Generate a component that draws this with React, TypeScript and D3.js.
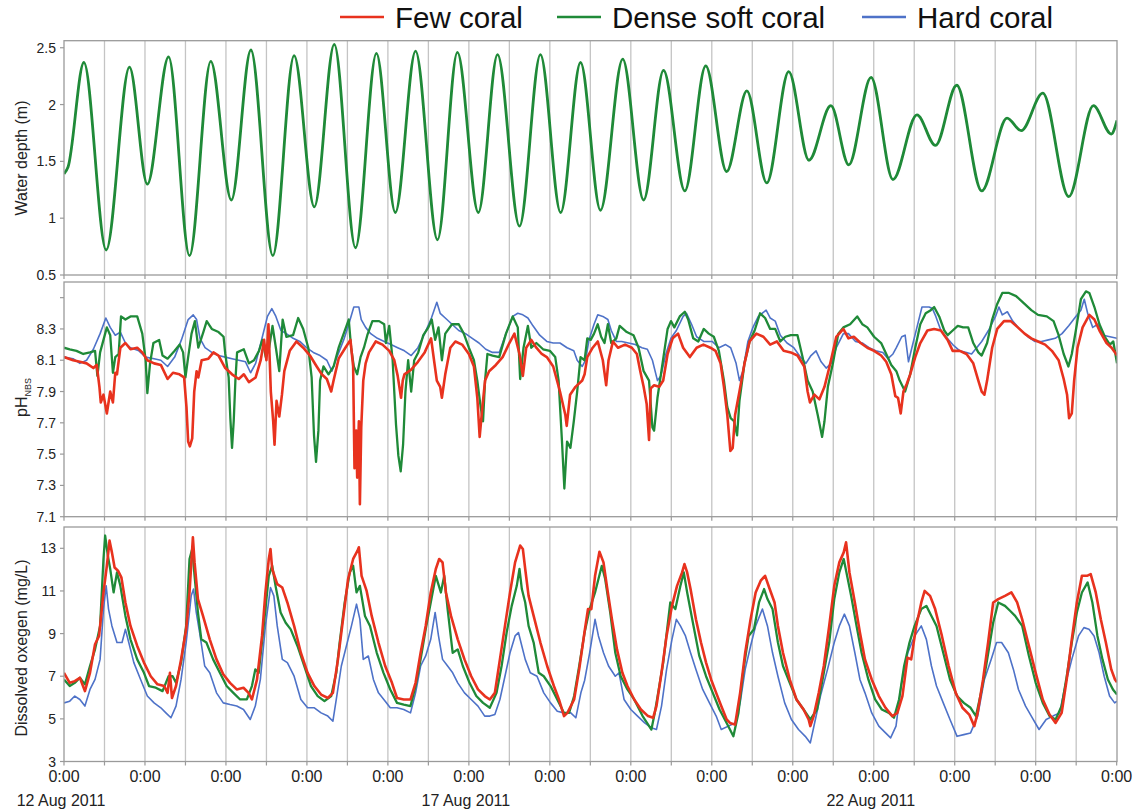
import React from 'react';
import * as d3 from 'd3';

type P = [number, number];

// ---- Series names / colours
const seriesNames = ['Few coral', 'Dense soft coral', 'Hard coral'];
const seriesColors = ['#e8321e', '#1f8a38', '#4e72c8'];

// ---- Axis ticks
const depthTicks = [0.5, 1, 1.5, 2, 2.5];
const phTicks = [7.1, 7.3, 7.5, 7.7, 7.9, 8.1, 8.3];
const phMinorTicks = [8.5];
const doTicks = [3, 5, 7, 9, 11, 13];
const dayCount = 13;
const timeLabel = '0:00';
const dateLabelDays = [0, 5, 10];
const dateLabels = ['12 Aug 2011', '17 Aug 2011', '22 Aug 2011'];

// ---- Water depth (hours since 12 Aug 0:00, metres) – tidal turning points
const depth: P[] = [
  [0, 1.39], [1.2, 1.45], [5.9, 2.37], [12.5, 0.72], [19.4, 2.33], [24.7, 1.3], [31.0, 2.42], [37.2, 0.67],
  [43.5, 2.38], [49.6, 1.16], [55.4, 2.48], [61.9, 0.67], [68.2, 2.43], [74.2, 1.1], [80.1, 2.53],
  [86.4, 0.74], [92.6, 2.45], [98.2, 1.05], [104.2, 2.47], [110.7, 0.81], [116.6, 2.46], [122.8, 1.05],
  [128.5, 2.44], [135.0, 0.93], [141.2, 2.44], [147.2, 1.05], [153.1, 2.37], [159.0, 1.07], [165.6, 2.4],
  [171.8, 1.16], [177.7, 2.3], [184.0, 1.24], [190.2, 2.34], [196.4, 1.41], [202.4, 2.12], [208.3, 1.31],
  [214.8, 2.29], [220.8, 1.51], [227.3, 1.99], [232.6, 1.47], [239.2, 2.24], [245.7, 1.34], [252.8, 1.91],
  [258.3, 1.64], [264.6, 2.17], [272.0, 1.24], [279.5, 1.88], [283.7, 1.77], [290.1, 2.1], [297.8, 1.19],
  [305.1, 1.99], [310.4, 1.74], [312.1, 1.86],
];

// ---- pH (NBS)
const phFew: P[] = [
  [0, 8.12], [2.7, 8.1], [4.7, 8.09], [6.7, 8.08], [8.7, 8.05], [9.7, 8.07], [10.5, 7.93], [10.9, 7.83], [11.7, 7.88],
  [12.7, 7.76], [13.7, 7.9], [14.5, 7.83], [15.2, 8.02], [15.7, 8.01], [16.7, 8.18], [18.2, 8.21], [19.7, 8.17],
  [21.7, 8.18], [23.2, 8.15], [24.7, 8.1], [26.7, 8.08], [28.7, 8.07], [30.7, 7.98], [32.3, 8.02], [34.2, 8.01],
  [35.6, 7.99], [36.3, 7.8], [36.8, 7.58], [37.3, 7.55], [38.0, 7.6], [38.6, 7.9], [39.3, 8.03], [39.8, 7.99],
  [40.8, 8.1], [42.8, 8.11], [44.3, 8.15], [45.8, 8.13], [47.8, 8.05], [49.8, 8.01], [51.8, 7.98], [53.3, 8.01],
  [54.8, 7.96], [56.8, 7.99], [58.3, 8.1], [59.3, 8.23], [60.0, 8.1], [60.6, 8.33], [61.3, 7.9], [62.0, 7.71],
  [62.4, 7.56], [63.0, 7.84], [63.8, 7.74], [64.6, 7.88], [65.3, 8.03], [66.9, 8.16], [68.9, 8.22], [70.9, 8.18],
  [72.9, 8.13], [74.9, 8.06], [76.4, 8.01], [77.9, 7.98], [79.2, 7.9], [79.9, 7.97], [81.4, 8.11], [83.4, 8.18],
  [84.9, 8.23], [85.7, 8.06], [86.1, 7.41], [86.6, 7.65], [86.9, 7.35], [87.4, 7.71], [87.7, 7.18], [88.1, 7.67],
  [88.7, 7.97], [89.4, 8.08], [90.4, 8.15], [92.4, 8.22], [94.4, 8.2], [96.4, 8.16], [97.9, 8.1], [98.9, 8.0],
  [99.9, 7.86], [100.4, 7.97], [100.9, 8.01], [102.9, 8.04], [104.9, 8.09], [106.9, 8.15], [108.8, 8.24],
  [109.8, 8.08], [110.5, 7.97], [111.5, 7.93], [112.0, 7.86], [113.0, 8.01], [114.5, 8.18], [116.0, 8.22],
  [118.0, 8.2], [120.0, 8.14], [121.5, 8.06], [122.5, 7.86], [123.2, 7.61], [124.0, 7.8], [124.8, 7.97],
  [126.0, 8.03], [128.0, 8.07], [130.0, 8.12], [132.0, 8.21], [133.5, 8.27], [135.0, 8.14], [136.0, 8.0],
  [137.0, 8.18], [138.5, 8.23], [140.0, 8.18], [141.6, 8.14], [143.1, 8.12], [145.0, 8.06], [147.0, 7.9],
  [148.6, 7.75], [149.0, 7.68], [150.0, 7.88], [151.6, 7.93], [153.6, 7.97], [154.3, 8.01], [155.1, 8.12],
  [156.7, 8.18], [158.2, 8.22], [159.7, 8.1], [160.7, 7.94], [161.4, 8.1], [162.7, 8.22], [164.2, 8.18],
  [166.3, 8.2], [168.3, 8.18], [169.8, 8.14], [170.8, 8.03], [171.8, 7.93], [172.7, 7.82], [173.4, 7.59],
  [173.9, 7.92], [174.9, 7.94], [176.4, 7.93], [177.6, 7.97], [178.9, 8.14], [180.4, 8.24], [182.0, 8.27],
  [183.5, 8.18], [185.5, 8.12], [187.5, 8.18], [189.5, 8.2], [191.6, 8.18], [193.1, 8.16], [194.6, 8.08],
  [195.6, 7.93], [196.6, 7.75], [197.5, 7.52], [198.2, 7.54], [198.9, 7.75], [200.2, 7.9], [201.7, 8.08],
  [203.2, 8.22], [205.2, 8.27], [207.3, 8.25], [209.3, 8.2], [211.3, 8.22], [213.3, 8.16], [215.4, 8.15],
  [217.4, 8.13], [219.4, 8.06], [220.4, 7.9], [221.1, 7.83], [222.4, 7.88], [223.9, 7.85], [225.4, 7.93],
  [226.9, 8.06], [228.9, 8.25], [231.0, 8.3], [232.5, 8.24], [234.1, 8.25], [236.1, 8.21], [238.1, 8.18],
  [240.1, 8.16], [242.2, 8.13], [243.7, 8.09], [245.2, 8.01], [246.4, 7.87], [247.2, 7.86], [248.0, 7.76],
  [248.8, 7.9], [249.8, 7.95], [250.8, 8.01], [252.3, 8.12], [253.8, 8.21], [255.9, 8.29], [257.9, 8.3],
  [259.9, 8.29], [261.9, 8.23], [263.4, 8.16], [265.5, 8.16], [267.5, 8.14], [269.5, 8.08], [271.0, 7.97],
  [272.0, 7.9], [272.8, 7.88], [273.6, 7.97], [275.1, 8.18], [276.6, 8.3], [278.6, 8.35], [280.6, 8.35],
  [282.7, 8.31], [284.7, 8.27], [286.7, 8.24], [288.7, 8.22], [290.8, 8.2], [292.8, 8.16], [294.8, 8.1],
  [296.3, 7.98], [297.3, 7.88], [297.9, 7.73], [298.7, 7.76], [299.4, 7.97], [300.4, 8.18], [301.9, 8.31],
  [303.9, 8.39], [305.4, 8.36], [306.9, 8.29], [309.0, 8.21], [310.5, 8.18], [311.5, 8.15], [312.1, 8.13],
];

const phDense: P[] = [
  [0, 8.18], [1.7, 8.17], [3.7, 8.16], [5.7, 8.14], [7.7, 8.15], [9.2, 8.16], [9.9, 8.0], [10.7, 8.15], [11.7, 8.23],
  [12.7, 8.31], [13.7, 8.26], [14.5, 8.02], [15.2, 8.12], [16.2, 8.14], [16.9, 8.38], [18.2, 8.36], [19.7, 8.38],
  [21.7, 8.38], [23.2, 8.27], [24.2, 8.1], [24.7, 7.89], [25.5, 8.08], [26.5, 8.21], [28.2, 8.23], [29.2, 8.13],
  [30.7, 8.11], [32.8, 8.16], [34.3, 8.2], [35.3, 8.15], [36.0, 7.99], [36.8, 8.12], [37.8, 8.27], [38.8, 8.35],
  [39.8, 8.18], [41.3, 8.28], [42.3, 8.35], [43.8, 8.3], [45.8, 8.28], [47.3, 8.25], [47.8, 8.14], [48.8, 7.99],
  [49.3, 7.73], [49.8, 7.54], [50.3, 7.71], [50.8, 7.97], [51.3, 8.15], [53.3, 8.17], [54.8, 8.08], [56.3, 8.1],
  [57.8, 8.16], [58.8, 8.23], [59.8, 8.12], [60.8, 8.18], [61.8, 8.32], [62.8, 8.18], [63.8, 8.03], [64.8, 8.36],
  [65.9, 8.25], [67.9, 8.26], [69.4, 8.37], [70.9, 8.3], [72.4, 8.18], [73.4, 7.99], [74.1, 7.62], [74.7, 7.45],
  [75.4, 7.65], [75.9, 7.97], [76.9, 8.06], [78.4, 8.01], [79.9, 8.06], [81.4, 8.18], [82.9, 8.27], [84.4, 8.36],
  [85.1, 8.18], [85.9, 8.06], [86.9, 8.01], [87.9, 8.12], [88.9, 8.18], [89.9, 8.26], [91.4, 8.35], [93.4, 8.35],
  [94.9, 8.33], [95.4, 8.21], [96.4, 8.32], [97.4, 8.1], [98.4, 7.69], [99.1, 7.49], [99.8, 7.39], [100.5, 7.56],
  [101.2, 7.9], [102.0, 8.1], [102.9, 7.9], [103.8, 8.1], [105.0, 8.15], [106.5, 8.26], [108.0, 8.31],
  [109.0, 8.36], [110.0, 8.23], [111.0, 8.31], [112.0, 8.1], [113.0, 8.27], [115.0, 8.33], [117.0, 8.33],
  [118.5, 8.27], [120.0, 8.18], [121.5, 8.1], [122.5, 7.97], [123.5, 7.8], [124.2, 7.71], [124.8, 7.97],
  [125.5, 8.14], [127.0, 8.13], [129.0, 8.12], [131.0, 8.27], [133.0, 8.38], [134.5, 8.31], [135.2, 7.98],
  [136.2, 8.18], [137.5, 8.32], [138.5, 8.18], [140.0, 8.21], [142.0, 8.17], [144.0, 8.16], [145.6, 8.12],
  [146.6, 7.97], [147.6, 7.58], [148.3, 7.28], [149.1, 7.58], [150.1, 7.54], [151.1, 7.71], [152.1, 7.9],
  [153.1, 8.12], [154.3, 8.1], [155.1, 8.24], [156.1, 8.23], [157.1, 8.27], [158.2, 8.33], [159.2, 8.25],
  [160.2, 8.21], [161.2, 8.33], [162.2, 8.21], [163.7, 8.24], [164.7, 8.32], [166.8, 8.28], [168.8, 8.26],
  [170.3, 8.18], [171.8, 8.03], [173.4, 7.97], [174.4, 7.67], [174.9, 7.65], [175.9, 7.86], [177.4, 8.08],
  [178.9, 8.3], [179.9, 8.35], [180.9, 8.31], [182.5, 8.38], [184.0, 8.41], [185.0, 8.36], [186.5, 8.24],
  [188.0, 8.22], [189.6, 8.3], [191.1, 8.27], [192.6, 8.25], [194.1, 8.16], [195.6, 7.97], [196.6, 7.8],
  [197.6, 7.73], [198.6, 7.71], [199.5, 7.62], [200.2, 7.84], [201.7, 8.08], [203.2, 8.22], [204.7, 8.29],
  [206.3, 8.4], [207.8, 8.37], [209.3, 8.3], [210.8, 8.3], [212.3, 8.22], [213.8, 8.25], [215.4, 8.26],
  [217.4, 8.26], [218.9, 8.12], [220.4, 7.97], [221.9, 7.9], [223.4, 7.75], [224.7, 7.61], [225.4, 7.71],
  [226.4, 7.93], [227.9, 8.08], [229.5, 8.27], [231.0, 8.31], [233.0, 8.33], [235.1, 8.38], [236.6, 8.33],
  [238.1, 8.31], [240.1, 8.25], [242.2, 8.21], [243.7, 8.14], [245.2, 8.07], [246.7, 8.03], [247.7, 7.97],
  [249.3, 7.9], [250.8, 8.01], [252.3, 8.18], [253.8, 8.33], [255.4, 8.4], [256.9, 8.42], [257.9, 8.44],
  [259.4, 8.38], [260.9, 8.29], [261.9, 8.26], [263.4, 8.29], [264.9, 8.32], [266.5, 8.31], [268.0, 8.31],
  [269.5, 8.21], [271.0, 8.15], [272.0, 8.13], [273.6, 8.21], [275.1, 8.36], [276.6, 8.46], [278.1, 8.53],
  [280.1, 8.53], [282.2, 8.51], [284.7, 8.46], [286.7, 8.42], [288.7, 8.39], [291.3, 8.38], [293.3, 8.35],
  [294.8, 8.26], [296.3, 8.14], [297.7, 8.06], [298.7, 8.14], [299.9, 8.29], [301.4, 8.49], [302.9, 8.54],
  [303.9, 8.53], [305.4, 8.44], [306.9, 8.33], [308.5, 8.25], [310.0, 8.2], [311.0, 8.22], [312.1, 8.08],
];

const phHard: P[] = [
  [0, 8.12], [2.7, 8.11], [4.7, 8.08], [6.7, 8.1], [8.7, 8.17], [10.7, 8.27], [12.4, 8.37], [13.7, 8.31],
  [15.2, 8.26], [16.7, 8.28], [18.2, 8.21], [19.7, 8.18], [22.2, 8.16], [24.2, 8.12], [26.7, 8.11], [28.7, 8.1],
  [30.7, 8.06], [32.8, 8.12], [34.8, 8.23], [36.8, 8.36], [38.3, 8.39], [39.3, 8.36], [40.3, 8.24], [41.8, 8.18],
  [43.8, 8.15], [45.8, 8.13], [47.8, 8.12], [49.8, 8.11], [51.8, 8.1], [53.8, 8.09], [55.3, 8.02], [56.8, 8.08],
  [58.8, 8.25], [60.3, 8.38], [61.6, 8.43], [62.8, 8.38], [64.3, 8.29], [65.9, 8.27], [67.9, 8.24], [69.9, 8.22],
  [71.9, 8.18], [73.9, 8.15], [75.9, 8.13], [77.9, 8.1], [79.4, 8.03], [80.9, 8.12], [82.9, 8.23], [84.4, 8.33],
  [85.9, 8.44], [87.4, 8.44], [88.1, 8.36], [89.4, 8.31], [90.9, 8.27], [92.9, 8.24], [94.9, 8.22], [96.9, 8.2],
  [98.9, 8.18], [100.9, 8.16], [102.9, 8.13], [104.9, 8.18], [106.9, 8.27], [108.9, 8.37], [110.5, 8.47],
  [111.5, 8.4], [113.0, 8.37], [115.0, 8.33], [117.0, 8.29], [119.0, 8.27], [121.0, 8.24], [123.0, 8.21],
  [125.0, 8.17], [127.0, 8.15], [129.0, 8.15], [131.0, 8.27], [133.0, 8.38], [134.5, 8.4], [136.0, 8.39],
  [137.5, 8.37], [139.0, 8.32], [141.0, 8.26], [143.1, 8.22], [145.0, 8.21], [147.0, 8.21], [149.1, 8.18],
  [151.1, 8.16], [152.1, 8.1], [153.6, 8.06], [154.6, 8.1], [155.6, 8.23], [157.1, 8.33], [158.2, 8.39],
  [159.7, 8.38], [161.2, 8.36], [162.2, 8.29], [163.7, 8.22], [165.3, 8.22], [167.3, 8.21], [169.3, 8.2],
  [171.3, 8.18], [172.9, 8.17], [174.4, 8.1], [175.9, 7.97], [176.9, 8.0], [178.4, 8.14], [179.9, 8.24],
  [181.5, 8.29], [183.5, 8.38], [184.5, 8.4], [186.0, 8.33], [187.5, 8.25], [189.6, 8.22], [192.1, 8.22],
  [194.1, 8.18], [196.1, 8.2], [197.6, 8.18], [199.2, 8.08], [200.2, 7.97], [201.2, 8.03], [202.7, 8.22],
  [204.2, 8.31], [205.8, 8.38], [208.1, 8.42], [209.3, 8.37], [210.8, 8.35], [212.3, 8.26], [214.3, 8.21],
  [216.3, 8.18], [218.3, 8.12], [219.9, 8.08], [221.4, 8.13], [222.9, 8.16], [224.4, 8.09], [225.9, 8.05],
  [227.4, 8.08], [228.9, 8.18], [231.0, 8.27], [232.5, 8.27], [234.6, 8.22], [236.6, 8.21], [238.6, 8.18],
  [240.6, 8.16], [242.7, 8.15], [244.2, 8.11], [245.7, 8.14], [246.7, 8.18], [248.3, 8.25], [249.3, 8.26],
  [250.3, 8.09], [251.3, 8.18], [252.8, 8.31], [254.3, 8.44], [256.4, 8.44], [257.4, 8.43], [258.4, 8.38],
  [259.9, 8.29], [261.4, 8.25], [263.4, 8.2], [265.5, 8.16], [267.5, 8.15], [269.0, 8.14], [270.5, 8.18],
  [272.0, 8.22], [274.0, 8.29], [276.1, 8.38], [277.1, 8.44], [278.1, 8.39], [279.6, 8.41], [281.2, 8.35],
  [283.2, 8.3], [285.7, 8.25], [287.7, 8.22], [289.7, 8.22], [291.8, 8.23], [293.8, 8.24], [295.8, 8.27],
  [297.8, 8.32], [299.9, 8.38], [301.4, 8.42], [302.4, 8.49], [303.4, 8.4], [304.9, 8.31], [306.4, 8.33],
  [308.0, 8.26], [310.0, 8.25], [312.1, 8.24],
];

// ---- Dissolved oxygen (mg/L)
const doFew: P[] = [
  [0, 7.16], [1.7, 6.69], [3.2, 6.77], [4.7, 6.93], [6.2, 6.3], [7.7, 7.16], [9.2, 8.5], [10.4, 8.89], [11.7, 10.92],
  [12.7, 12.18], [13.5, 13.36], [14.2, 12.81], [15.0, 12.1], [16.0, 11.95], [17.0, 11.64], [18.2, 10.46],
  [19.7, 9.36], [21.7, 8.42], [23.7, 7.64], [25.7, 7.0], [27.7, 6.62], [29.7, 6.54], [30.7, 6.22], [31.4, 7.16],
  [32.0, 5.98], [33.2, 6.54], [34.7, 7.79], [36.2, 9.2], [37.2, 10.93], [38.2, 13.52], [38.7, 12.34],
  [39.7, 10.62], [41.2, 9.83], [43.2, 8.73], [45.2, 7.79], [47.2, 7.09], [49.2, 6.69], [51.2, 6.38], [53.2, 6.46],
  [54.7, 6.22], [55.7, 5.91], [57.2, 6.84], [58.7, 8.89], [59.7, 10.93], [60.7, 12.5], [61.2, 12.97],
  [61.7, 12.03], [63.2, 11.32], [64.7, 11.16], [66.2, 10.46], [68.2, 9.36], [70.2, 8.1], [72.2, 7.16],
  [74.2, 6.54], [76.2, 6.14], [78.2, 5.98], [79.7, 6.22], [81.2, 7.79], [82.7, 9.67], [84.2, 11.56], [85.7, 12.5],
  [87.0, 12.89], [87.4, 13.05], [88.2, 11.71], [89.7, 11.0], [91.2, 9.83], [93.2, 8.58], [95.2, 7.48],
  [97.2, 6.69], [98.7, 5.98], [100.7, 5.91], [102.7, 5.91], [104.2, 6.69], [105.7, 8.1], [107.2, 9.36],
  [108.7, 10.93], [110.2, 12.03], [111.2, 12.5], [112.2, 12.34], [113.2, 10.93], [114.7, 9.83], [116.7, 8.73],
  [118.7, 7.79], [120.7, 7.0], [122.7, 6.38], [124.7, 6.07], [126.2, 5.91], [127.7, 6.22], [129.2, 7.79],
  [130.7, 9.36], [132.2, 10.93], [133.7, 12.34], [135.2, 13.13], [136.0, 12.97], [136.7, 12.03], [137.7, 10.77],
  [139.2, 9.83], [141.2, 8.58], [143.2, 7.48], [145.2, 6.54], [146.7, 5.91], [148.2, 5.13], [149.2, 5.28],
  [151.2, 5.91], [152.7, 7.32], [154.3, 9.1], [155.3, 10.15], [156.3, 10.15], [157.4, 11.71], [158.7, 12.84],
  [159.9, 12.34], [160.9, 11.24], [162.4, 9.67], [163.9, 8.26], [165.5, 7.16], [167.0, 6.54], [169.0, 5.91],
  [171.0, 5.44], [173.1, 5.13], [174.6, 5.05], [175.6, 5.6], [177.1, 7.16], [178.6, 8.89], [180.2, 10.3],
  [181.7, 11.24], [183.2, 11.87], [183.9, 12.26], [184.7, 11.87], [185.7, 11.09], [187.3, 9.67], [188.8, 8.58],
  [190.3, 7.64], [191.8, 6.85], [193.3, 6.22], [194.8, 5.6], [196.4, 4.97], [197.4, 4.81], [198.9, 4.73],
  [200.4, 6.22], [201.9, 8.1], [203.5, 9.67], [205.0, 10.93], [206.5, 11.48], [207.8, 11.71], [209.0, 11.16],
  [210.6, 10.46], [211.6, 9.36], [213.1, 8.1], [215.1, 6.85], [217.1, 5.91], [219.2, 5.44], [220.7, 4.97],
  [221.2, 4.66], [222.2, 5.13], [223.7, 6.22], [225.2, 7.48], [226.8, 9.36], [228.3, 11.24], [229.8, 12.34],
  [231.1, 12.81], [231.8, 13.28], [232.8, 11.87], [234.4, 10.46], [235.9, 9.05], [237.4, 7.79], [239.4, 6.85],
  [241.5, 6.07], [243.5, 5.52], [245.5, 5.13], [247.0, 5.28], [248.5, 6.07], [250.0, 7.87], [251.1, 7.79],
  [252.6, 9.36], [254.1, 10.46], [255.1, 11.0], [256.7, 10.77], [258.2, 10.15], [260.2, 8.89], [262.2, 7.48],
  [264.3, 6.22], [266.3, 5.52], [268.3, 5.2], [269.8, 4.66], [270.8, 5.28], [272.4, 6.85], [273.9, 8.58],
  [275.4, 10.46], [276.9, 10.62], [278.9, 10.77], [280.8, 10.93], [282.5, 10.46], [284.0, 9.67], [286.0, 8.42],
  [288.0, 7.16], [290.1, 5.91], [292.1, 5.2], [293.9, 4.81], [295.7, 5.28], [297.2, 6.85], [298.7, 8.73],
  [300.2, 10.46], [301.7, 11.71], [303.2, 11.71], [304.3, 11.79], [305.8, 10.93], [307.3, 9.67], [308.8, 8.58],
  [310.4, 7.32], [311.5, 6.85], [312.1, 6.72],
];

const doDense: P[] = [
  [0, 6.84], [1.7, 6.54], [3.2, 6.69], [4.7, 6.93], [6.2, 6.62], [7.7, 7.48], [9.2, 8.26], [10.7, 9.36], [11.7, 12.5],
  [12.2, 13.6], [13.0, 12.65], [13.7, 12.03], [14.7, 10.93], [15.7, 11.87], [16.7, 11.24], [18.2, 9.83],
  [19.7, 8.73], [21.7, 7.79], [23.7, 7.16], [25.2, 6.54], [27.2, 6.46], [29.2, 6.3], [31.0, 7.0], [32.2, 7.0],
  [33.2, 6.69], [34.7, 7.64], [36.2, 9.36], [37.2, 12.5], [38.0, 12.97], [38.7, 11.71], [39.7, 9.99],
  [40.7, 8.73], [42.2, 8.58], [44.2, 7.79], [46.2, 7.16], [48.2, 6.54], [50.2, 6.22], [52.2, 5.91], [54.2, 5.91],
  [55.7, 6.54], [56.7, 7.32], [57.7, 7.16], [59.2, 9.36], [60.7, 11.71], [61.7, 12.18], [62.7, 11.24],
  [64.2, 9.99], [65.7, 9.51], [67.2, 9.2], [69.2, 8.42], [71.2, 7.48], [73.2, 6.54], [75.2, 6.07], [77.2, 5.83],
  [79.2, 6.07], [80.7, 7.16], [81.7, 8.58], [83.2, 10.46], [84.7, 11.87], [85.7, 12.18], [86.7, 10.93],
  [87.7, 11.24], [89.2, 9.83], [90.7, 9.36], [92.7, 8.1], [94.7, 7.16], [96.7, 6.38], [98.7, 5.75], [100.7, 5.67],
  [102.7, 5.6], [104.2, 6.54], [105.7, 7.79], [107.2, 9.2], [108.7, 10.46], [110.2, 11.71], [111.7, 10.93],
  [112.7, 11.71], [113.7, 10.15], [115.2, 8.1], [116.7, 8.26], [118.2, 7.48], [120.2, 6.69], [122.2, 6.07],
  [124.2, 5.75], [126.2, 5.52], [128.2, 6.22], [129.7, 7.48], [131.2, 9.05], [132.7, 10.3], [134.2, 11.24],
  [135.0, 12.03], [135.7, 11.09], [136.7, 10.46], [137.7, 9.36], [139.2, 8.58], [140.7, 7.16], [142.2, 7.0],
  [144.2, 6.54], [146.2, 5.91], [148.2, 5.28], [149.7, 5.28], [151.2, 6.07], [152.7, 7.48], [154.3, 9.05],
  [155.8, 10.15], [157.4, 10.93], [159.4, 12.18], [160.4, 11.56], [161.9, 9.99], [163.4, 8.1], [165.0, 7.0],
  [167.0, 6.38], [169.0, 5.91], [171.5, 5.13], [174.1, 4.5], [175.1, 5.28], [176.1, 6.22], [177.6, 7.64],
  [179.7, 10.46], [181.2, 10.15], [182.7, 11.24], [183.7, 11.87], [184.7, 10.93], [186.2, 9.67], [188.3, 7.95],
  [190.3, 7.0], [192.3, 6.22], [194.3, 5.44], [196.4, 4.81], [198.4, 4.18], [199.9, 5.28], [201.4, 7.32],
  [202.9, 8.89], [204.5, 9.2], [206.0, 10.46], [207.5, 11.09], [208.5, 10.62], [210.0, 10.15], [211.6, 8.58],
  [213.1, 7.48], [215.1, 6.69], [217.1, 5.91], [219.2, 5.44], [221.2, 4.97], [223.2, 5.44], [225.2, 7.16],
  [226.8, 8.58], [228.3, 10.62], [229.8, 11.87], [231.1, 12.5], [232.3, 11.56], [233.3, 10.77], [234.9, 9.36],
  [236.4, 8.1], [238.4, 6.85], [240.4, 5.91], [242.4, 5.44], [244.5, 5.28], [246.0, 5.05], [247.5, 5.91],
  [249.0, 7.48], [250.6, 8.58], [252.1, 9.36], [254.1, 10.15], [255.6, 10.3], [257.1, 9.83], [258.6, 9.36],
  [260.6, 8.1], [262.6, 6.85], [264.7, 6.07], [266.7, 5.75], [268.7, 5.52], [270.3, 5.13], [271.8, 6.22],
  [273.3, 7.48], [275.4, 9.51], [276.9, 10.46], [278.9, 10.3], [280.4, 10.07], [281.9, 9.83], [284.0, 9.36],
  [286.0, 7.95], [288.0, 6.69], [290.1, 5.75], [292.1, 5.13], [293.9, 4.97], [295.7, 5.6], [297.2, 7.0],
  [298.7, 8.58], [300.2, 9.99], [301.7, 10.93], [303.4, 11.4], [304.8, 10.46], [306.3, 8.89], [307.8, 7.79],
  [309.4, 6.85], [310.9, 6.38], [312.1, 6.14],
];

const doHard: P[] = [
  [0, 5.75], [1.7, 5.83], [3.2, 6.07], [4.7, 5.91], [6.2, 5.6], [7.7, 6.38], [9.2, 6.85], [10.7, 7.79], [11.7, 10.15],
  [12.5, 11.24], [13.2, 10.15], [14.2, 9.36], [15.7, 8.58], [17.2, 8.58], [18.2, 9.2], [19.2, 8.58], [20.7, 7.64],
  [22.7, 6.85], [24.7, 6.07], [26.7, 5.75], [28.7, 5.52], [30.2, 5.28], [31.7, 5.05], [33.2, 5.6], [34.7, 6.85],
  [36.2, 8.58], [37.7, 10.77], [38.4, 11.09], [39.2, 9.99], [40.2, 9.05], [41.7, 7.48], [43.2, 7.16],
  [45.2, 6.22], [47.2, 5.75], [49.2, 5.67], [51.2, 5.6], [53.2, 5.44], [55.2, 4.97], [56.7, 5.6], [58.2, 6.85],
  [59.7, 9.36], [61.2, 11.16], [62.2, 10.77], [63.2, 9.36], [64.7, 7.79], [66.2, 7.64], [68.2, 7.0], [70.2, 5.91],
  [72.2, 5.52], [74.2, 5.52], [76.2, 5.28], [78.2, 5.13], [79.7, 4.89], [80.7, 5.91], [82.2, 7.48], [83.7, 8.42],
  [85.2, 9.36], [86.7, 10.38], [87.7, 9.67], [88.7, 7.79], [90.2, 7.95], [91.7, 6.85], [93.2, 6.22], [95.2, 5.83],
  [96.7, 5.52], [98.7, 5.52], [100.7, 5.44], [102.7, 5.28], [104.2, 6.22], [105.7, 7.48], [107.2, 7.95],
  [108.7, 8.73], [110.0, 9.99], [111.0, 8.89], [112.2, 7.79], [113.7, 7.48], [115.2, 7.16], [116.7, 6.69],
  [118.7, 6.22], [120.7, 5.91], [122.7, 5.6], [124.7, 5.13], [126.2, 5.13], [127.7, 5.21], [129.2, 5.91],
  [130.7, 7.0], [132.2, 8.1], [133.7, 8.89], [134.7, 9.05], [135.7, 8.42], [136.7, 7.79], [138.2, 7.16],
  [140.2, 7.0], [142.2, 6.22], [144.2, 5.75], [146.2, 5.36], [148.2, 5.28], [150.2, 5.28], [151.7, 5.05],
  [153.2, 6.22], [154.3, 6.8], [155.8, 8.1], [157.4, 9.67], [158.4, 8.89], [159.9, 8.1], [161.4, 7.48],
  [163.4, 7.0], [164.5, 7.16], [166.0, 5.91], [168.0, 5.44], [170.0, 5.13], [172.1, 4.81], [174.1, 4.58],
  [175.6, 4.5], [177.1, 5.6], [178.6, 7.32], [180.2, 8.73], [181.5, 9.67], [182.7, 9.36], [184.2, 8.89],
  [185.7, 8.1], [187.3, 7.32], [189.3, 6.38], [191.3, 5.75], [193.3, 5.13], [194.8, 4.5], [196.9, 4.66],
  [198.9, 4.81], [200.4, 5.75], [201.9, 7.32], [203.5, 8.42], [205.0, 9.36], [207.0, 10.15], [208.5, 9.36],
  [210.0, 8.1], [211.6, 7.0], [213.6, 5.75], [215.6, 4.97], [217.7, 4.5], [219.7, 4.18], [221.2, 3.87],
  [222.7, 4.97], [224.2, 6.07], [226.3, 7.32], [228.3, 8.58], [229.8, 9.36], [231.3, 9.91], [232.8, 9.36],
  [234.4, 8.1], [235.9, 6.85], [237.4, 6.22], [239.4, 5.28], [241.5, 4.66], [243.5, 4.34], [245.0, 4.11],
  [246.6, 4.66], [248.1, 6.54], [250.1, 8.1], [252.1, 8.89], [254.1, 9.36], [255.6, 8.73], [257.1, 7.48],
  [258.6, 6.54], [260.6, 5.75], [262.6, 4.97], [264.7, 4.18], [266.7, 4.26], [268.7, 4.34], [270.8, 5.13],
  [272.8, 6.85], [274.8, 7.79], [276.4, 8.58], [277.9, 8.58], [279.9, 8.1], [281.4, 7.32], [282.9, 6.38],
  [285.0, 5.6], [287.0, 5.05], [289.0, 4.5], [291.1, 4.97], [293.1, 5.13], [295.1, 5.28], [296.7, 6.54],
  [298.7, 7.79], [300.7, 8.89], [302.3, 9.28], [303.8, 9.2], [305.3, 8.89], [306.8, 8.1], [308.3, 7.0],
  [309.9, 6.07], [311.4, 5.75], [312.1, 5.83],
];

// ---- Layout
const W = 1135;
const H = 812;
const X0 = 64;
const X1 = 1117;
const FONT = "'Liberation Sans', Arial, Helvetica, sans-serif";

const x = d3.scaleLinear().domain([0, 312.1]).range([X0, X1]);

interface Panel {
  key: string;
  top: number;
  bottom: number;
  domain: [number, number];
  ticks: number[];
  minor?: number[];
  fmt: (v: number) => string;
}

const panels: Panel[] = [
  { key: 'depth', top: 40.7, bottom: 275, domain: [0.5, 2.562], ticks: depthTicks, fmt: (v) => String(v) },
  { key: 'ph', top: 282, bottom: 516.7, domain: [7.1, 8.6], ticks: phTicks, minor: phMinorTicks, fmt: (v) => v.toFixed(1) },
  { key: 'do', top: 527, bottom: 761.5, domain: [3, 14], ticks: doTicks, fmt: (v) => String(v) },
];

const halfDays = d3.range(0, dayCount * 2 + 1).map((i) => i * 12);

function PanelFrame({ p, children }: { p: Panel; children?: React.ReactNode }) {
  const y = d3.scaleLinear().domain(p.domain).range([p.bottom, p.top]);
  return (
    <g>
      <defs>
        <clipPath id={`clip-${p.key}`}>
          <rect x={X0} y={p.top} width={X1 - X0} height={p.bottom - p.top} />
        </clipPath>
      </defs>
      {halfDays.slice(1, -1).map((h) => (
        <line key={h} x1={x(h)} x2={x(h)} y1={p.top} y2={p.bottom} stroke="#c4c4c4" strokeWidth={1.3} />
      ))}
      {halfDays.map((h) => (
        <line key={'t' + h} x1={x(h)} x2={x(h)} y1={p.bottom} y2={p.bottom + 4} stroke="#9a9a9a" strokeWidth={1.2} />
      ))}
      {p.ticks.map((v) => (
        <g key={v}>
          <line x1={X0 - 4} x2={X0} y1={y(v)} y2={y(v)} stroke="#9a9a9a" strokeWidth={1.2} />
          <text x={56} y={y(v)} dy="0.36em" textAnchor="end" fontSize={14} fill="#222" fontFamily={FONT}>
            {p.fmt(v)}
          </text>
        </g>
      ))}
      {(p.minor || []).map((v) => (
        <line key={'m' + v} x1={X0 - 4} x2={X0} y1={y(v)} y2={y(v)} stroke="#9a9a9a" strokeWidth={1.2} />
      ))}
      <g clipPath={`url(#clip-${p.key})`}>{children}</g>
      <rect x={X0} y={p.top} width={X1 - X0} height={p.bottom - p.top} fill="none" stroke="#9a9a9a" strokeWidth={1.3} />
    </g>
  );
}

function makeLine(p: Panel, curve: d3.CurveFactory) {
  const y = d3.scaleLinear().domain(p.domain).range([p.bottom, p.top]);
  return d3
    .line<P>()
    .x((d) => x(d[0]))
    .y((d) => y(d[1]))
    .curve(curve);
}

export default function App() {
  const [pDepth, pPh, pDo] = panels;
  const depthLine = makeLine(pDepth, d3.curveMonotoneX);
  const phLine = makeLine(pPh, d3.curveLinear);
  const doLine = makeLine(pDo, d3.curveLinear);
  const [cRed, cGreen, cBlue] = seriesColors;

  const legendX = [340, 557, 862];

  return (
    <svg width={W} height={H} style={{ position: 'absolute', left: 0, top: 0, background: '#fff' }} fontFamily={FONT}>
      {/* Legend */}
      {seriesNames.map((name, i) => (
        <g key={name}>
          <line x1={legendX[i]} x2={legendX[i] + 44} y1={17} y2={17} stroke={seriesColors[i]} strokeWidth={2.5} />
          <text x={legendX[i] + 55} y={28} fontSize={29.5} fill="#111" fontFamily={FONT}>
            {name}
          </text>
        </g>
      ))}

      <PanelFrame p={pDepth}>
        <path d={depthLine(depth) || ''} fill="none" stroke={cGreen} strokeWidth={2.8} strokeLinejoin="round" />
      </PanelFrame>

      <PanelFrame p={pPh}>
        <path d={phLine(phHard) || ''} fill="none" stroke={cBlue} strokeWidth={1.6} strokeLinejoin="round" />
        <path d={phLine(phDense) || ''} fill="none" stroke={cGreen} strokeWidth={2.3} strokeLinejoin="round" />
        <path d={phLine(phFew) || ''} fill="none" stroke={cRed} strokeWidth={2.6} strokeLinejoin="round" />
      </PanelFrame>

      <PanelFrame p={pDo}>
        <path d={doLine(doHard) || ''} fill="none" stroke={cBlue} strokeWidth={1.6} strokeLinejoin="round" />
        <path d={doLine(doDense) || ''} fill="none" stroke={cGreen} strokeWidth={2.3} strokeLinejoin="round" />
        <path d={doLine(doFew) || ''} fill="none" stroke={cRed} strokeWidth={2.6} strokeLinejoin="round" />
      </PanelFrame>

      {/* X labels */}
      {d3.range(0, dayCount + 1).map((d) => (
        <text key={d} x={x(d * 24)} y={782} textAnchor="middle" fontSize={16} fill="#222">
          {timeLabel}
        </text>
      ))}
      {dateLabelDays.map((d, i) => (
        <text key={d} x={x(d * 24) - 3} y={806} textAnchor="middle" fontSize={16} fill="#222">
          {dateLabels[i]}
        </text>
      ))}

      {/* Y titles */}
      <text transform="translate(27,158) rotate(-90)" textAnchor="middle" fontSize={16} fill="#222">
        Water depth (m)
      </text>
      <text transform="translate(27,417) rotate(-90)" textAnchor="start" fontSize={16} fill="#222">
        pH
        <tspan fontSize={9} dy={4}>
          NBS
        </tspan>
      </text>
      <text transform="translate(27,648) rotate(-90)" textAnchor="middle" fontSize={16} fill="#222">
        Dissolved oxegen (mg/L)
      </text>
    </svg>
  );
}
